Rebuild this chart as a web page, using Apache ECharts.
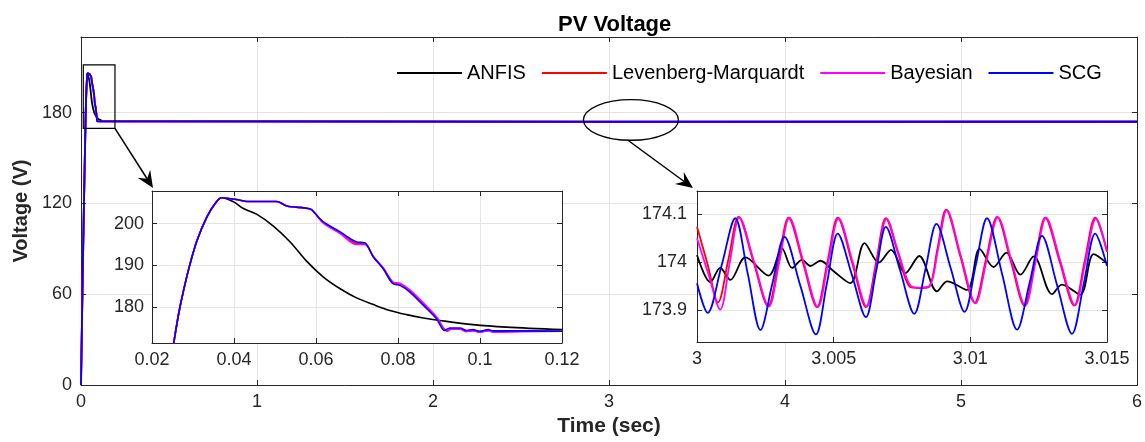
<!DOCTYPE html>
<html><head><meta charset="utf-8">
<script src="https://cdn.jsdelivr.net/npm/echarts@6/dist/echarts.min.js"></script>
<style>html,body{margin:0;padding:0;background:#fff}#c{width:1145px;height:442px}</style>
</head><body><div id="c"></div>
<script>
// ---------- data ----------
const seriesNames = ['ANFIS', 'Levenberg-Marquardt', 'Bayesian', 'SCG'];
const seriesColors = ['#000000', '#ff0000', '#ff00ff', '#0000ff'];

// common start-up rise (t [s], V)
const riseCommon = [[0,0],[0.005,38],[0.01,75],[0.015,108],[0.02,140],[0.0253,171.4],[0.0265,178.4],[0.0277,184.0],[0.0293,190.4],[0.031,196.0],[0.0334,201.6],[0.0354,204.8],[0.037,206.2]];

// start-up transient after the peak, 0.037 .. 0.12 s
const startupANFIS = [[0.0399,205.2],[0.0423,203.6],[0.0456,202.2],[0.0496,199.4],[0.0537,195.6],[0.0577,191.0],[0.0618,187.2],[0.0659,184.4],[0.0699,182.2],[0.0740,180.6],[0.0780,179.2],[0.0821,178.2],[0.0862,177.4],[0.0902,176.8],[0.0983,175.8],[0.1064,175.2],[0.1200,174.6]];
const startupLM = [[0.0415,205.6],[0.0431,205.3],[0.0504,205.3],[0.0529,204.2],[0.0586,203.5],[0.0598,202.4],[0.0618,200.2],[0.0659,197.7],[0.0699,195.2],[0.0719,195.1],[0.0740,192.0],[0.0764,189.2],[0.0788,185.7],[0.0805,185.5],[0.0829,183.9],[0.0862,180.8],[0.0894,177.5],[0.0920,174.3],[0.0930,174.8],[0.0951,174.8],[0.0967,174.2],[0.0983,174.4],[0.0999,174.0],[0.1020,174.4],[0.1032,174.1],[0.1105,174.2],[0.1200,174.2]];
const startupBayesian = [[0.0415,205.6],[0.0431,205.3],[0.0504,205.3],[0.0529,204.2],[0.0586,203.5],[0.0598,202.4],[0.0618,200.1],[0.0659,197.6],[0.0699,195.0],[0.0719,195.0],[0.0740,192.1],[0.0764,189.4],[0.0788,186.0],[0.0805,185.7],[0.0829,184.1],[0.0862,181.0],[0.0894,177.7],[0.0920,174.2],[0.0930,174.7],[0.0951,174.7],[0.0967,174.1],[0.0983,174.3],[0.0999,174.0],[0.1020,174.3],[0.1032,174.0],[0.1105,174.1],[0.1200,174.2]];
const startupSCG = [[0.0415,205.6],[0.0431,205.3],[0.0504,205.3],[0.0529,204.2],[0.0586,203.5],[0.0598,202.4],[0.0618,200.4],[0.0659,198.0],[0.0699,195.6],[0.0719,195.4],[0.0740,192.0],[0.0764,189.2],[0.0788,185.6],[0.0805,185.2],[0.0829,183.6],[0.0862,180.4],[0.0894,177.2],[0.0914,174.4],[0.0926,175.0],[0.0951,175.0],[0.0967,174.4],[0.0983,174.6],[0.0999,174.2],[0.1020,174.6],[0.1032,174.3],[0.1105,174.3],[0.1200,174.2]];

// steady-state ripple, 3 .. 3.015 s
const rippleANFIS = [[3.00000,174.015],[3.00049,173.958],[3.00085,173.988],[3.00122,173.963],[3.00177,174.010],[3.00262,173.972],[3.00311,174.029],[3.00348,173.988],[3.00384,174.005],[3.00415,173.992],[3.00451,174.003],[3.00500,173.981],[3.00561,173.956],[3.00613,174.040],[3.00665,173.999],[3.00710,174.026],[3.00762,173.977],[3.00813,174.013],[3.00878,173.939],[3.00915,173.960],[3.00988,173.942],[3.01034,174.028],[3.01085,173.990],[3.01132,174.020],[3.01183,173.974],[3.01232,174.012],[3.01299,173.933],[3.01335,173.953],[3.01402,173.932],[3.01451,174.017],[3.01500,173.998]];
const rippleLM = [[3.00000,174.074],[3.00039,173.995],[3.00077,173.916],[3.00115,174.006],[3.00152,174.095],[3.00206,174.002],[3.00260,173.908],[3.00298,174.001],[3.00335,174.093],[3.00387,174.000],[3.00439,173.906],[3.00477,174.000],[3.00515,174.093],[3.00567,174.000],[3.00618,173.906],[3.00655,173.999],[3.00691,174.092],[3.00735,174.020],[3.00780,173.948],[3.00814,173.946],[3.00848,173.948],[3.00880,174.029],[3.00911,174.110],[3.00963,174.013],[3.01016,173.915],[3.01057,174.005],[3.01098,174.095],[3.01148,174.002],[3.01198,173.909],[3.01236,174.001],[3.01274,174.093],[3.01327,174.001],[3.01380,173.909],[3.01418,174.001],[3.01457,174.093],[3.01500,174.022]];
const rippleBayesian = [[3.00000,174.050],[3.00042,173.975],[3.00085,173.901],[3.00120,174.000],[3.00155,174.094],[3.00209,174.001],[3.00263,173.907],[3.00301,174.000],[3.00338,174.093],[3.00390,174.000],[3.00442,173.906],[3.00480,174.000],[3.00518,174.092],[3.00570,174.000],[3.00621,173.907],[3.00658,173.999],[3.00694,174.091],[3.00738,174.018],[3.00783,173.950],[3.00817,173.947],[3.00851,173.950],[3.00883,174.030],[3.00914,174.109],[3.00966,174.012],[3.01019,173.914],[3.01060,174.005],[3.01101,174.094],[3.01151,174.002],[3.01201,173.909],[3.01239,174.001],[3.01277,174.093],[3.01330,174.001],[3.01383,173.910],[3.01421,174.001],[3.01460,174.092],[3.01500,174.022]];
const rippleSCG = [[3.00000,173.956],[3.00039,173.894],[3.00090,173.993],[3.00140,174.092],[3.00186,173.975],[3.00232,173.858],[3.00276,173.956],[3.00320,174.053],[3.00378,173.951],[3.00435,173.849],[3.00475,173.955],[3.00515,174.060],[3.00567,173.973],[3.00618,173.885],[3.00655,173.980],[3.00691,174.074],[3.00743,173.983],[3.00795,173.892],[3.00836,173.986],[3.00876,174.080],[3.00928,173.988],[3.00979,173.896],[3.01020,173.994],[3.01061,174.092],[3.01116,173.976],[3.01171,173.859],[3.01217,173.957],[3.01262,174.055],[3.01317,173.953],[3.01372,173.850],[3.01415,173.955],[3.01457,174.060],[3.01500,173.992]];

const steadyEnd = [[6, 174.0]];

const startups = [startupANFIS, startupLM, startupBayesian, startupSCG];
const ripples = [rippleANFIS, rippleLM, rippleBayesian, rippleSCG];

// ---------- layout ----------
const FONT = 'Liberation Sans, Arial, Helvetica, sans-serif';
const AX = '#262626';
const GRIDC = '#e3e3e3';
const mainGrid = {left: 81, top: 37, right: 5, bottom: 52};
const inset1 = {left: 152, top: 191, width: 410, height: 152};
const inset2 = {left: 697, top: 191, width: 410, height: 151};

function mainAxisX(gi, o) {
  return Object.assign({
    type: 'value', gridIndex: gi, position: 'bottom',
    axisLine: {show: true, onZero: false, lineStyle: {color: AX, width: 1}},
    axisTick: {show: true, inside: true, length: 5, lineStyle: {color: AX}},
    axisLabel: {show: true, color: AX, fontSize: 18, fontFamily: FONT, margin: 8},
    splitLine: {show: true, showMinLine: false, showMaxLine: false, lineStyle: {color: GRIDC, width: 1}}
  }, o);
}
function mirror(a, pos) {
  const m = JSON.parse(JSON.stringify(a));
  m.position = pos;
  m.axisLabel = {show: false};
  m.splitLine = {show: false};
  m.name = '';
  return m;
}

const xs = [], ys = [];
xs.push(mainAxisX(0, {min: 0, max: 6, interval: 1, z: 1,
  name: 'Time (sec)', nameLocation: 'middle', nameGap: 29,
  nameTextStyle: {fontSize: 21, fontWeight: 'bold', color: AX, fontFamily: FONT}}));
ys.push(mainAxisX(0, {position: 'left', min: 0, max: 230, interval: 60, z: 1,
  axisLabel: {show: true, color: AX, fontSize: 18, fontFamily: FONT, margin: 9, showMaxLabel: false},
  name: 'Voltage (V)', nameLocation: 'middle', nameGap: 46, nameRotate: 90,
  nameTextStyle: {fontSize: 20, fontWeight: 'bold', color: AX, fontFamily: FONT}}));
xs.push(mainAxisX(1, {min: 0.02, max: 0.12, interval: 0.02, z: 6}));
ys.push(mainAxisX(1, {position: 'left', min: 171.4, max: 207.8, minInterval: 10, maxInterval: 10, z: 6,
  axisLabel: {show: true, color: AX, fontSize: 18, fontFamily: FONT, margin: 8, showMinLabel: false, showMaxLabel: false}}));
xs.push(mainAxisX(2, {min: 3, max: 3.015, interval: 0.005, z: 6}));
ys.push(mainAxisX(2, {position: 'left', min: 173.833, max: 174.149, minInterval: 0.1, maxInterval: 0.1, z: 6,
  axisLabel: {show: true, color: AX, fontSize: 18, fontFamily: FONT, margin: 10, showMinLabel: false, showMaxLabel: false}}));
// mirrored box axes (top / right)
for (let i = 0; i < 3; i++) { xs.push(mirror(xs[i], 'top')); ys.push(mirror(ys[i], 'right')); }
for (let i = 3; i < 6; i++) { ys[i].nameRotate = null; }

const series = [];
seriesNames.forEach((nm, i) => {
  const base = {name: nm, type: 'line', symbol: 'none', showSymbol: false, animation: false,
    itemStyle: {color: seriesColors[i]}, clip: true};
  series.push(Object.assign({}, base, {xAxisIndex: 0, yAxisIndex: 0, z: 2 + i * 0.01, smooth: false,
    lineStyle: {color: seriesColors[i], width: 1.8},
    data: riseCommon.concat(startups[i], ripples[i], steadyEnd)}));
  series.push(Object.assign({}, base, {xAxisIndex: 1, yAxisIndex: 1, z: 8 + i * 0.01, smooth: 0.33,
    lineStyle: {color: seriesColors[i], width: 1.6},
    data: riseCommon.concat(startups[i])}));
  series.push(Object.assign({}, base, {xAxisIndex: 2, yAxisIndex: 2, z: 8 + i * 0.01, smooth: 0.33,
    lineStyle: {color: seriesColors[i], width: 1.8},
    data: ripples[i]}));
});

const chart = echarts.init(document.getElementById('c'), null, {renderer: 'canvas'});
chart.setOption({
  backgroundColor: '#fff',
  animation: false,
  title: {text: 'PV Voltage', left: 553, top: 9,
    textStyle: {fontSize: 22, fontWeight: 'bold', color: '#000', fontFamily: FONT}},
  legend: {data: seriesNames.map((n, i) => ({name: n, icon: 'rect', itemStyle: {color: seriesColors[i]}})),
    left: 392, top: 58, itemWidth: 65, itemHeight: 2, itemGap: 16,
    textStyle: {fontSize: 20, color: '#000', fontFamily: FONT}, selectedMode: false},
  grid: [
    Object.assign({show: true, backgroundColor: '#fff', borderWidth: 0, z: 0}, mainGrid),
    Object.assign({show: true, backgroundColor: '#fff', borderWidth: 0, z: 5}, inset1),
    Object.assign({show: true, backgroundColor: '#fff', borderWidth: 0, z: 5}, inset2)
  ],
  xAxis: xs,
  yAxis: ys,
  series: series
});

// ---------- annotations: zoom box, ellipse, arrows ----------
function px(t, v) { return chart.convertToPixel({xAxisIndex: 0, yAxisIndex: 0}, [t, v]); }
function arrow(x1, y1, x2, y2) {
  const dx = x2 - x1, dy = y2 - y1, L = Math.hypot(dx, dy);
  const ux = dx / L, uy = dy / L, nx = -uy, ny = ux;
  const hl = 17, hw = 7.5, back = 11;
  const bx = x2 - ux * hl, by = y2 - uy * hl, mx = x2 - ux * back, my = y2 - uy * back;
  return [
    {type: 'line', z: 50, silent: true, shape: {x1: x1, y1: y1, x2: mx, y2: my}, style: {stroke: '#000', lineWidth: 1.5}},
    {type: 'polygon', z: 50, silent: true, shape: {points: [[x2, y2], [bx + nx * hw, by + ny * hw], [mx, my], [bx - nx * hw, by - ny * hw]]}, style: {fill: '#000'}}
  ];
}
const boxTL = px(0.013, 211.6), boxBR = px(0.193, 169.6);
const ell = px(3.1246, 175.2);
const rx = 47.5, ry = 20.3;
const g = [
  {type: 'rect', z: 50, silent: true, shape: {x: boxTL[0], y: boxTL[1], width: boxBR[0] - boxTL[0], height: boxBR[1] - boxTL[1]},
    style: {fill: 'none', stroke: '#000', lineWidth: 1.2}},
  {type: 'ellipse', z: 50, silent: true, shape: {cx: ell[0], cy: ell[1], rx: rx, ry: ry},
    style: {fill: 'none', stroke: '#000', lineWidth: 1.3}}
].concat(
  arrow(boxBR[0], boxBR[1], inset1.left + 1, inset1.top - 3),
  arrow(ell[0] - 3, ell[1] + ry, inset2.left - 4, inset2.top - 3)
);
chart.setOption({graphic: g});
</script>
</body></html>
